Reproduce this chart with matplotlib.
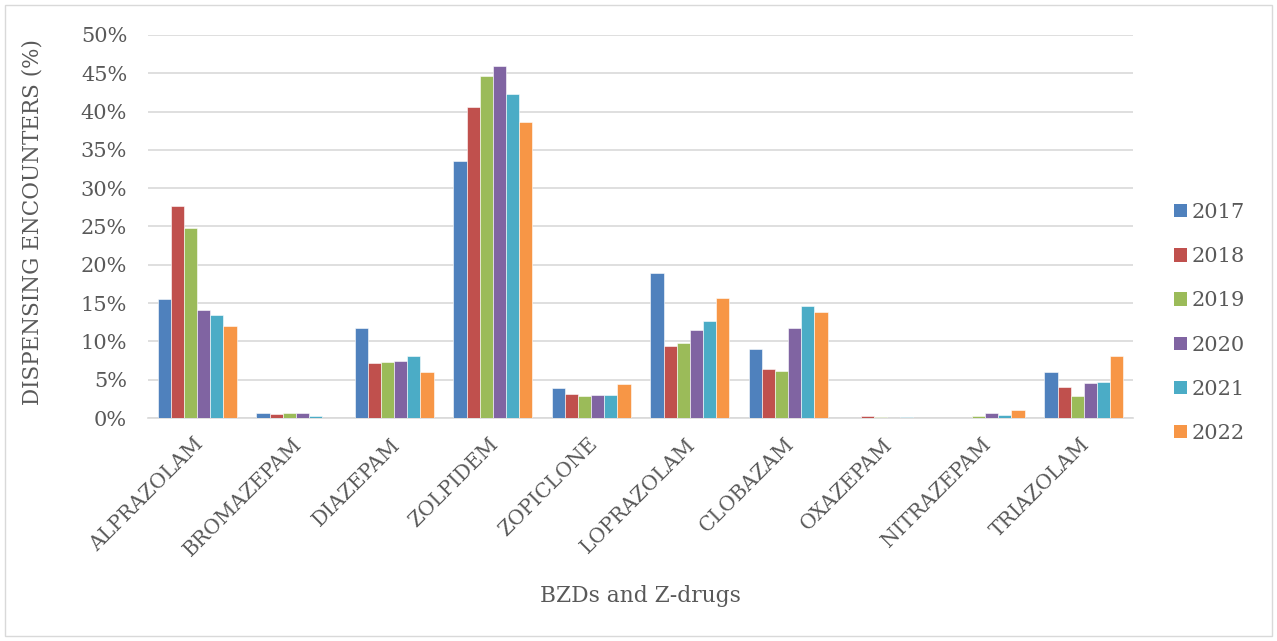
import matplotlib
matplotlib.use("Agg")
import matplotlib.pyplot as plt
import matplotlib.transforms as mtransforms
import numpy as np
from matplotlib.patches import Rectangle, Patch

categories = ["ALPRAZOLAM", "BROMAZEPAM", "DIAZEPAM", "ZOLPIDEM", "ZOPICLONE",
              "LOPRAZOLAM", "CLOBAZAM", "OXAZEPAM", "NITRAZEPAM", "TRIAZOLAM"]
years = ["2017", "2018", "2019", "2020", "2021", "2022"]

v2017 = [15.5, 0.7, 11.7, 33.5, 3.95, 18.95, 9.0, 0.05, 0.03, 6.0]
v2018 = [27.7, 0.5, 7.2, 40.6, 3.15, 9.45, 6.35, 0.3, 0.03, 4.1]
v2019 = [24.75, 0.7, 7.3, 44.7, 2.85, 9.75, 6.15, 0.15, 0.3, 2.85]
v2020 = [14.1, 0.6, 7.45, 45.9, 2.95, 11.45, 11.8, 0.03, 0.7, 4.6]
v2021 = [13.45, 0.2, 8.1, 42.3, 2.95, 12.6, 14.6, 0.15, 0.45, 4.7]
v2022 = [12.0, 0.0, 6.0, 38.65, 4.4, 15.7, 13.8, 0.0, 1.0, 8.1]
series = [v2017, v2018, v2019, v2020, v2021, v2022]
colors = ["#4F81BD", "#C0504D", "#9BBB59", "#8064A2", "#4BACC6", "#F79646"]

plt.rcParams['font.family'] = ['DejaVu Serif']
txt = "#595959"

fig = plt.figure(figsize=(12.77, 6.41), dpi=100)
fig.patches.append(Rectangle((5/1277, 5/641), 1 - 10/1277, 1 - 10/641,
                             transform=fig.transFigure, fill=False,
                             edgecolor="#d9d9d9", linewidth=1.0))
ax = fig.add_axes([148/1277, 1 - 418/641, (1133 - 148)/1277, (418 - 35)/641])

x = np.arange(len(categories))
bw = 0.133
for i, (vals, c) in enumerate(zip(series, colors)):
    ax.bar(x + (i - 2.5) * bw, vals, width=bw, color=c, edgecolor="white",
           linewidth=0.4, zorder=3, label=years[i])

ax.set_xlim(-0.5, len(categories) - 0.5)
ax.set_ylim(0, 50)
ax.set_yticks(np.arange(0, 51, 5))
ax.set_yticklabels([f"{t}%" for t in range(0, 51, 5)], color=txt, fontsize=15)
ax.grid(axis='y', color="#d9d9d9", linewidth=1.2, zorder=0)
ax.tick_params(axis='y', length=0, pad=15)
for s in ["top", "right", "left"]:
    ax.spines[s].set_visible(False)
ax.spines["bottom"].set_color("#d9d9d9")
ax.spines["bottom"].set_linewidth(1.2)

ax.set_xticks(x)
ax.set_xticklabels(categories, rotation=45, ha='right', va='top',
                   rotation_mode='anchor', color=txt, fontsize=14.6)
ax.tick_params(axis='x', length=0, pad=12)
off = mtransforms.ScaledTranslation(-4/100, 0, fig.dpi_scale_trans)
for lab in ax.get_xticklabels():
    lab.set_transform(lab.get_transform() + off)

fig.text(33/1277, 1 - 222/641, "DISPENSING ENCOUNTERS (%)", rotation=90,
         ha='center', va='center', color=txt, fontsize=15.5)
fig.text(640/1277, 1 - 596/641, "BZDs and Z-drugs", ha='center', va='center',
         color=txt, fontsize=15.7)

handles = [Patch(facecolor=c, edgecolor='none') for c in colors]
fig.legend(handles, years, loc='center left', bbox_to_anchor=(1155/1277, 1 - 323/641),
           frameon=False, fontsize=15, labelcolor=txt, handlelength=0.62,
           handleheight=0.62, handletextpad=0.25, labelspacing=1.21)

fig.savefig("out.png", dpi=100)
